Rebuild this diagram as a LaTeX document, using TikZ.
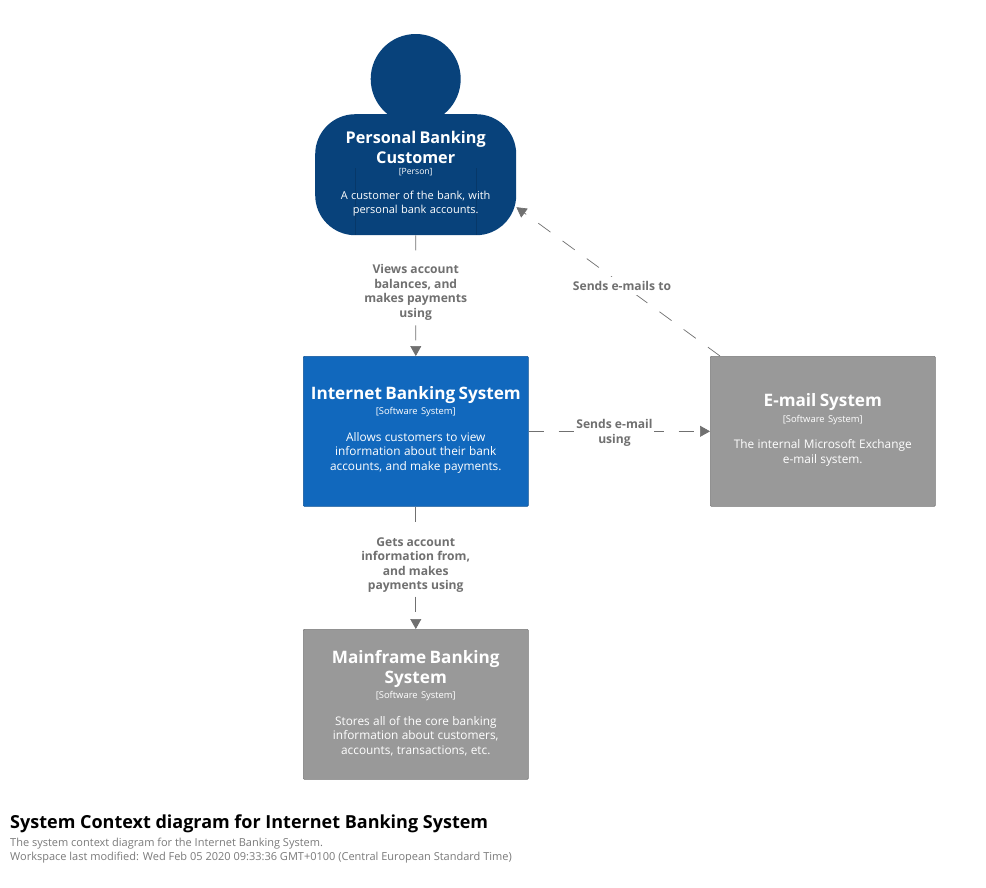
\documentclass[tikz,border=0pt]{standalone}
\usepackage{fontspec}
\setmainfont{Open Sans}
\usetikzlibrary{arrows.meta}
\definecolor{personblue}{HTML}{08427B}
\definecolor{sysblue}{HTML}{1168BD}
\definecolor{extgrey}{HTML}{999999}
\definecolor{linegrey}{HTML}{707070}
\definecolor{subgrey}{HTML}{7A7A7A}
\newcommand{\boxtext}[3]{{\fontsize{17.15}{20}\selectfont\bfseries #1\par}\vspace{3pt}{\fontsize{9.4}{11}\selectfont [#2]\par}\vspace{12pt}{\fontsize{11.85}{14.5}\selectfont #3\par}\vspace{3pt}}
\newcommand{\persontext}[3]{{\fontsize{16.2}{20}\selectfont\bfseries #1\par}\vspace{0.5pt}{\fontsize{8.6}{11}\selectfont [#2]\par}\vspace{10pt}{\fontsize{11}{14.5}\selectfont #3\par}}
\tikzset{
  x=1pt,y=-1pt,
  sysbox/.style={draw=#1!80!black,line width=.6pt,fill=#1,rounded corners=1pt,minimum width=225pt,minimum height=150pt,inner sep=0pt,text=white,align=center,text width=215pt,anchor=north west},
  rel/.style={draw=linegrey,line width=.7pt,dash pattern=on 15pt off 15pt,-{Triangle[length=10pt,width=11pt,fill=linegrey]}},
  rellabel/.style={fill=white,text=linegrey,font=\fontsize{12.1}{14.5}\selectfont\bfseries,align=center,inner sep=1.5pt},
}
\begin{document}
\begin{tikzpicture}
\useasboundingbox (0,0) rectangle (986,887);
\fill[white] (0,0) rectangle (986,887);
% person
\node[circle,fill=personblue,minimum size=90pt,inner sep=0pt] (head) at (415.7,79) {};
\node[fill=personblue,rounded corners=40pt,minimum width=201pt,minimum height=121pt,inner sep=0pt,anchor=north west] (person) at (315,114) {};
\draw[personblue!85!black,line width=.4pt] (355,168) -- (355,235) (476,168) -- (476,235);
\node[text=white,align=center,text width=195pt,inner sep=0pt] (ptext) at (415.7,173.5) {\persontext{Personal Banking\\Customer}{Person}{A customer of the bank, with\\personal bank accounts.}};
% systems
\node[sysbox=sysblue] (ibs) at (303,356) {\boxtext{Internet Banking System}{Software System}{Allows customers to view\\information about their bank\\accounts, and make payments.}};
\node[sysbox=extgrey] (email) at (710,356) {\boxtext{E-mail System}{Software System}{The internal Microsoft Exchange\\e-mail system.}};
\node[sysbox=extgrey] (main) at (303,629) {\boxtext{Mainframe Banking\\System}{Software System}{Stores all of the core banking\\information about customers,\\accounts, transactions, etc.}};
% relationships
\draw[rel] (person.south) -- (ibs.north);
\draw[rel] (ibs.south) -- (main.north);
\draw[rel] (ibs.east) -- (email.west);
\draw[rel] ([xshift=10pt]email.north west) -- ([yshift=-32.5pt]person.east);
\node[rellabel] (l1) at (415.7,292.3) {Views account\\balances, and\\makes payments\\using};
\node[rellabel] (l2) at (415.7,565) {Gets account\\information from,\\and makes\\payments using};
\node[rellabel] (l3) at (614.5,433) {Sends e-mail\\using};
\node[rellabel,inner ysep=4pt] (l4) at (622,286) {Sends e-mails to};
% footer
\node[anchor=base west,inner sep=0pt,font=\fontsize{18}{20}\selectfont\bfseries] (title) at (10,828) {System Context diagram for Internet Banking System};
\node[anchor=base west,inner sep=0pt,text=subgrey,font=\fontsize{11}{13}\selectfont] (sub) at (10,846) {The system context diagram for the Internet Banking System.};
\node[anchor=base west,inner sep=0pt,text=subgrey,font=\fontsize{11}{13}\selectfont] (mod) at (10,860) {Workspace last modified: Wed Feb 05 2020 09:33:36 GMT+0100 (Central European Standard Time)};
\end{tikzpicture}
\end{document}
